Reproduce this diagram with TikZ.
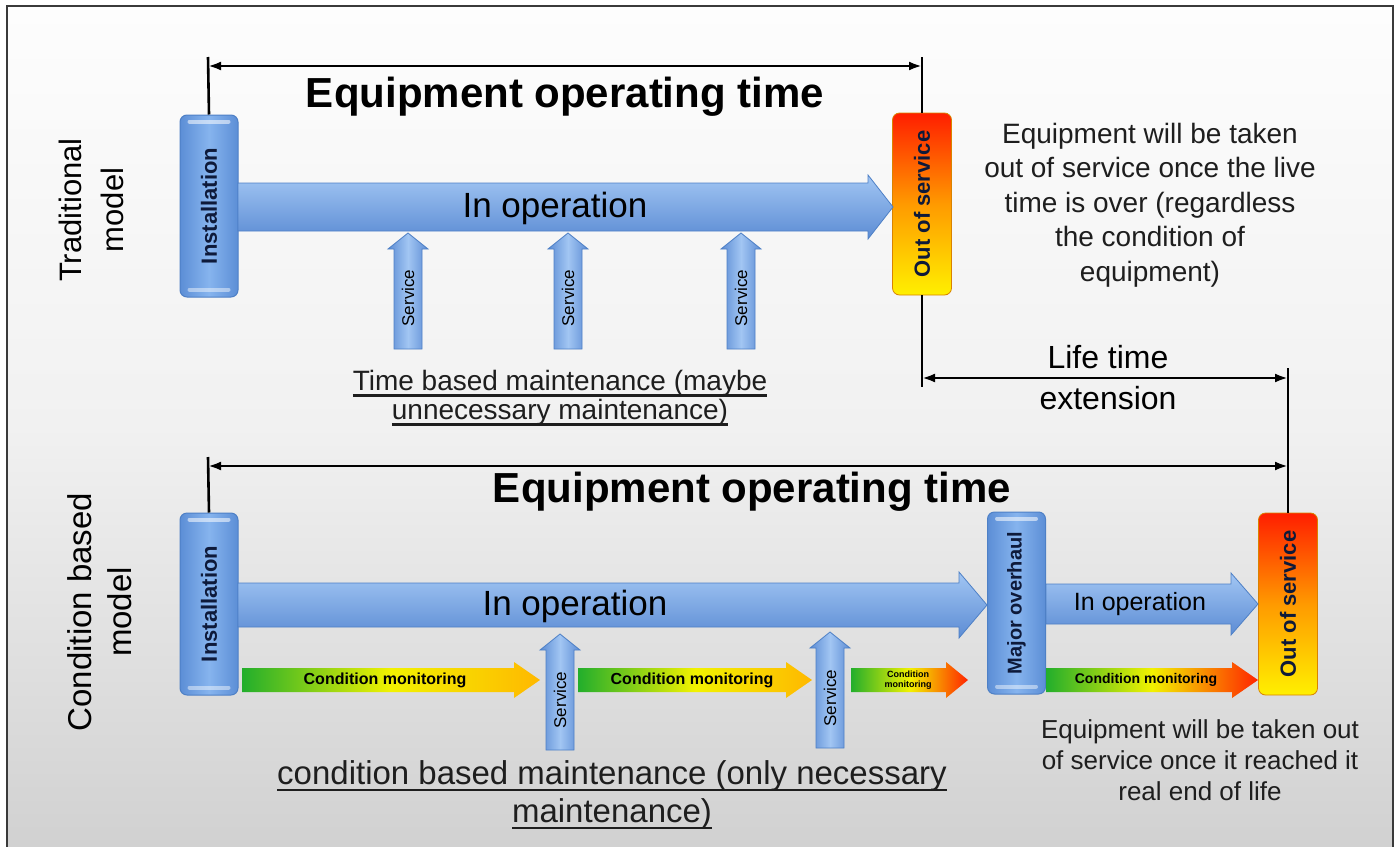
\documentclass[tikz,border=0pt]{standalone}
\usepackage{fontspec}
\setmainfont{Liberation Sans}
\usetikzlibrary{arrows.meta}
\definecolor{frameC}{HTML}{3A3A3A}
\definecolor{bgTop}{HTML}{FDFDFD}
\definecolor{bgMid}{HTML}{F1F1F1}
\definecolor{bgBot}{HTML}{D1D1D1}
\definecolor{boxEdge}{HTML}{4E80C6}
\definecolor{boxL}{HTML}{86B4EE}
\definecolor{boxD}{HTML}{5C8ED6}
\definecolor{arrL}{HTML}{A2C6F3}
\definecolor{arrM}{HTML}{7EAAE8}
\definecolor{arrD}{HTML}{5C8CD4}
\definecolor{navy}{HTML}{0E1A3A}
\definecolor{txt}{HTML}{1E1E1E}
\definecolor{oosR}{HTML}{FF1E00}
\definecolor{oosO}{HTML}{FF9A00}
\definecolor{oosY}{HTML}{FFF000}
\definecolor{cmG}{HTML}{22AE2C}
\definecolor{cmY}{HTML}{F2F200}
\definecolor{cmO}{HTML}{FFB800}
\definecolor{cmR}{HTML}{FF2400}
\newcommand\myul[1]{\setbox0\hbox{#1}\rlap{\vrule width \wd0 height -4pt depth 6.5pt}\box0}
% right-pointing arrow: x1, xtip, yc, shaft half, head half, head length, style
\newcommand\rarrow[7]{\shade[#7] (#1,#3-#4) -- (#2-#6,#3-#4) -- (#2-#6,#3-#5) -- (#2,#3) -- (#2-#6,#3+#5) -- (#2-#6,#3+#4) -- (#1,#3+#4) -- cycle;}
% up-pointing arrow: xc, ybottom, ytip, half, head half, head length, style
\newcommand\uarrow[7]{\shade[#7] (#1-#4,#2) -- (#1-#4,#3+#6) -- (#1-#5,#3+#6) -- (#1,#3) -- (#1+#5,#3+#6) -- (#1+#4,#3+#6) -- (#1+#4,#2) -- cycle;}
% glossy bands of a box node
\newcommand\gloss[1]{%
  \draw[white, opacity=0.55, line width=4pt, line cap=round] ([xshift=10pt, yshift=-7pt]#1.north west) -- ([xshift=-10pt, yshift=-7pt]#1.north east);
  \draw[white, opacity=0.45, line width=4pt, line cap=round] ([xshift=10pt, yshift=8pt]#1.south west) -- ([xshift=-10pt, yshift=8pt]#1.south east);}
\begin{document}
\begin{tikzpicture}[x=1pt,y=-1pt,
  bluebox/.style={rectangle, rounded corners=7pt, draw=boxEdge, line width=1pt,
    left color=boxD, right color=boxD, middle color=boxL,
    minimum width=58pt, minimum height=182pt, inner sep=0pt, text=navy,
    font=\bfseries\fontsize{22}{26}\selectfont},
  oosbox/.style={rectangle, rounded corners=7pt, draw=oosO!85!black, line width=0.8pt,
    top color=oosR, bottom color=oosY, middle color=oosO,
    minimum width=59pt, minimum height=182pt, inner sep=0pt, text=navy,
    font=\bfseries\fontsize{22}{26}\selectfont},
  bigarr/.style={top color=arrL, bottom color=arrD, draw=boxEdge, line width=0.8pt},
  servarr/.style={left color=arrD, right color=arrD, middle color=arrL, draw=boxEdge, line width=0.8pt},
  cmarr/.style={left color=cmG, right color=cmO, middle color=cmY},
  cmarrR/.style={left color=cmG, right color=cmR, middle color=cmY},
  dimline/.style={line width=2.6pt, black},
  dimarr/.style={line width=2.6pt, black, {Latex[length=13pt,width=9pt]}-{Latex[length=13pt,width=9pt]}},
  title/.style={font=\bfseries\fontsize{42}{46}\selectfont, text=black},
  opl/.style={font=\fontsize{35}{40}\selectfont, text=black},
  side/.style={font=\fontsize{31}{42}\selectfont, text=black, align=center, rotate=90},
  desc/.style={font=\fontsize{28}{34.5}\selectfont, text=txt, align=center},
  servtxt/.style={font=\fontsize{17}{20}\selectfont, text=black, rotate=90},
  cmtxt/.style={font=\bfseries\fontsize{16}{18}\selectfont, text=black}
]
\useasboundingbox (0,0) rectangle (1397,846);
% background and frame
\shade[top color=bgTop, bottom color=bgBot, middle color=bgMid] (7,6) rectangle (1393,846);
\draw[frameC, line width=2pt] (7,850) -- (7,6) -- (1393,6) -- (1393,850);

% ---------------- Traditional model ----------------
\node[side] (trad) at (91,210) {Traditional\\model};
\node[bluebox] (inst1) at (209,206) {\rotatebox{90}{Installation}};
\gloss{inst1}
\node[oosbox] (oos1) at (922,204) {\rotatebox{90}{Out of service}};
\rarrow{238}{893}{207}{24}{32}{25}{bigarr}
\node[opl] (op1) at (555,208) {In operation};

\uarrow{408}{349}{233}{14}{20}{16}{servarr}
\uarrow{568}{349}{233}{14}{20}{16}{servarr}
\uarrow{741}{349}{233}{14}{20}{16}{servarr}
\node[servtxt] (s1) at (408,298) {Service};
\node[servtxt] (s2) at (568,298) {Service};
\node[servtxt] (s3) at (741,298) {Service};

\node[desc, font=\fontsize{28}{29}\selectfont] (tbm) at (560,398)
  {\myul{Time based maintenance (maybe}\\\myul{unnecessary maintenance)}};

\node[title] (eot1) at (565,97) {Equipment operating time};
\node[desc] (d1) at (1150,205) {Equipment will be taken\\out of service once the live\\time is over (regardless\\the condition of\\equipment)};

% dimension lines (top)
\coordinate (t1) at (208,57);
\coordinate (t2) at (922,57);
\coordinate (h1a) at (208,66);
\coordinate (h1b) at (922,66);
\draw[dimline] (t1) -- (inst1.north);
\draw[dimline] (t2) -- (oos1.north);
\draw[dimarr] (h1a) -- (h1b);

% life time extension
\coordinate (le1) at (922,387);
\coordinate (le2) at (1288,368);
\coordinate (h2a) at (922,378);
\coordinate (h2b) at (1288,378);
\draw[dimline] (oos1.south) -- (le1);
\draw[dimarr] (h2a) -- (h2b);
\node[desc, font=\fontsize{32}{41}\selectfont, text=black] (lte) at (1108,378) {Life time\\extension};

% ---------------- Condition based model ----------------
\node[side, font=\fontsize{33}{40}\selectfont] (cbm) at (100,612) {Condition based\\model};
\node[bluebox] (inst2) at (209,604) {\rotatebox{90}{Installation}};
\gloss{inst2}
\node[bluebox, font=\bfseries\fontsize{20}{24}\selectfont] (maj) at (1016.5,603) {\rotatebox{90}{Major overhaul}};
\gloss{maj}
\node[oosbox] (oos2) at (1288,604) {\rotatebox{90}{Out of service}};

\rarrow{238}{987}{605}{22}{33}{28}{bigarr}
\node[opl] (op2) at (575,606) {In operation};
\rarrow{1046}{1258}{604}{20}{31}{27}{bigarr}
\node[opl, font=\fontsize{25}{28}\selectfont] (op3) at (1140,604) {In operation};

\rarrow{242}{540}{680}{12}{18}{26}{cmarr}
\rarrow{578}{812}{680}{12}{18}{26}{cmarr}
\rarrow{851}{968}{680}{12}{18}{22}{cmarrR}
\rarrow{1046}{1258}{680}{12}{18}{26}{cmarrR}
\node[cmtxt] (cm1) at (385,680) {Condition monitoring};
\node[cmtxt] (cm2) at (692,680) {Condition monitoring};
\node[cmtxt, font=\bfseries\fontsize{9}{10}\selectfont, align=center] (cm3) at (908,680) {Condition\\monitoring};
\node[cmtxt, font=\bfseries\fontsize{14}{16}\selectfont] (cm4) at (1146,680) {Condition monitoring};

\uarrow{560}{750}{634}{14}{20}{16}{servarr}
\uarrow{830}{748}{632}{14}{20}{16}{servarr}
\node[servtxt] (s4) at (560,700) {Service};
\node[servtxt] (s5) at (830,698) {Service};

\node[desc, font=\fontsize{33}{38}\selectfont] (cbmt) at (612,795)
  {\myul{condition based maintenance (only necessary}\\\myul{maintenance)}};

\node[title] (eot2) at (752,492) {Equipment operating time};
\node[desc, font=\fontsize{26}{31}\selectfont] (d2) at (1200,760) {Equipment will be taken out\\of service once it reached it\\real end of life};

% dimension lines (bottom)
\coordinate (t4) at (208,457);
\coordinate (h3a) at (208,466);
\coordinate (h3b) at (1288,466);
\draw[dimline] (t4) -- (inst2.north);
\draw[dimline] (le2) -- (oos2.north);
\draw[dimarr] (h3a) -- (h3b);
\end{tikzpicture}
\end{document}
